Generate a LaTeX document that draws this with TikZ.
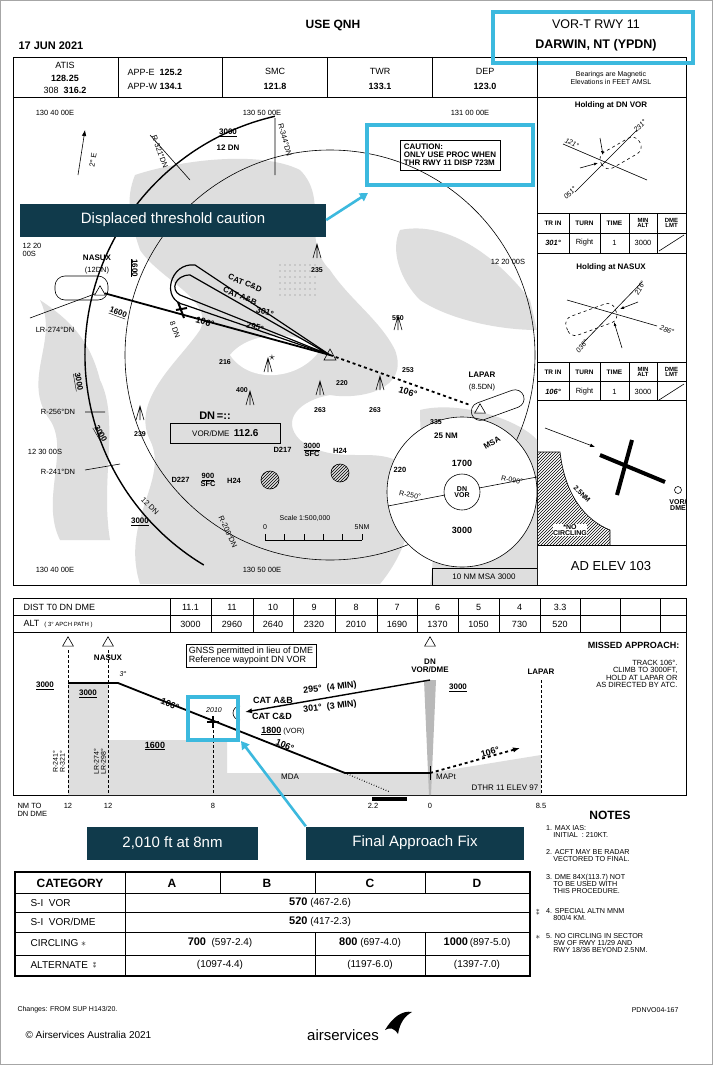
\documentclass[tikz,border=0pt]{standalone}
\usepackage{fontspec}
\setmainfont{Liberation Sans}
\usetikzlibrary{patterns,arrows.meta,decorations.markings}
\definecolor{cyanb}{RGB}{60,185,222}
\definecolor{darkbox}{RGB}{16,58,75}
\definecolor{land}{RGB}{222,222,222}
\newcommand\fsz[1]{\fontsize{#1}{#1}\selectfont}
\tikzset{
 ln/.style={line width=0.6pt},
 trk/.style={line width=1.8pt},
 callout/.style={fill=darkbox,text=white,font=\fsz{15},minimum height=33pt,inner sep=0pt},
 carrow/.style={cyanb,line width=2.6pt,-{Triangle[length=8pt,width=9pt]}},
 hl/.style={cyanb,line width=3.5pt},
 sm/.style={font=\fsz{7.5}},
 bsm/.style={font=\bfseries\fsz{8}},
 tri/.style={regular polygon,regular polygon sides=3,draw,inner sep=2.2pt,ln},
 note/.style={font=\fsz{7.2},anchor=north west,align=left,inner sep=0pt},
}
\usetikzlibrary{shapes.geometric}
\begin{document}
\begin{tikzpicture}[x=1pt,y=-1pt,font=\fsz{8}]
\useasboundingbox (0,0) rectangle (713,1065);
\fill[white] (0,0) rectangle (713,1065);
\draw[gray!70,line width=1pt] (0.5,0.5) rectangle (712.5,1064.5);
% header
\node[font=\bfseries\fsz{12}] (qnh) at (333,25) {USE QNH};
\node[font=\bfseries\fsz{11},anchor=west] (date) at (15,46) {17 JUN 2021};
\node[font=\fsz{12.5}] (vort) at (596,24) {VOR-T RWY 11};
\node[font=\bfseries\fsz{12.5}] (darw) at (596,45) {DARWIN, NT (YPDN)};
% main frame
\draw[line width=0.8pt] (13,57) rectangle (686,585);
\draw[hl] (493,12) rectangle (693,63);
\draw[ln] (13,97) -- (686,97);
\foreach \x in {118,222,327,432,537} \draw[ln] (\x,57) -- (\x,97);
\draw[ln] (537,97) -- (537,585);
\node[font=\fsz{9}] (atis) at (65,65) {ATIS};
\node[font=\bfseries\fsz{9}] (atisf) at (65,78) {128.25};
\node[font=\fsz{9}] (atisg) at (65,90) {308\ \ \textbf{316.2}};
\node[anchor=west,font=\fsz{9}] (appe) at (124,72) {APP-E\ \ \textbf{125.2}};
\node[anchor=west,font=\fsz{9}] (appw) at (124,86) {APP-W\ \textbf{134.1}};
\node[font=\fsz{9}] (smc) at (275,71) {SMC}; \node[font=\bfseries\fsz{9}] (smcf) at (275,86) {121.8};
\node[font=\fsz{9}] (twr) at (380,71) {TWR}; \node[font=\bfseries\fsz{9}] (twrf) at (380,86) {133.1};
\node[font=\fsz{9}] (dep) at (485,71) {DEP}; \node[font=\bfseries\fsz{9}] (depf) at (485,86) {123.0};
\node[font=\fsz{7},align=center] (bear) at (611,78) {Bearings are Magnetic\\[1pt]Elevations in FEET AMSL};
% right panels
\node[bsm] (hdn) at (611,105) {Holding at DN VOR};
\draw[ln] (537,213) -- (686,213) (537,233) -- (686,233) (537,253) -- (686,253);
\foreach \x in {569,600,629,657} \draw[ln] (\x,213) -- (\x,253);
\foreach \y/\a/\b in {223/301°/t1,372/106°/t2}{
 \node[font=\bfseries\fsz{6.5}] at (553,\y) {TR IN};
 \node[font=\bfseries\fsz{6.5}] at (584.5,\y) {TURN};
 \node[font=\bfseries\fsz{6.5}] at (614.5,\y) {TIME};
 \node[font=\bfseries\fsz{6},align=center] at (643,\y) {MIN\\[-1pt]ALT};
 \node[font=\bfseries\fsz{6},align=center] at (671.5,\y) {DME\\[-1pt]LMT};
 \node[font=\bfseries\itshape\fsz{7.5}] at (553,\y+20) {\a};
 \node[font=\fsz{7.5}] at (584.5,\y+20) {Right};
 \node[font=\fsz{7.5}] at (614.5,\y+20) {1};
 \node[font=\fsz{7.5}] at (643,\y+20) {3000};
 \draw[ln] (659,\y+28) -- (684,\y+12);
}
\node[bsm] (hnas) at (611,267) {Holding at NASUX};
\draw[ln] (537,362) -- (686,362) (537,381) -- (686,381) (537,400) -- (686,400);
\foreach \x in {569,600,629,657} \draw[ln] (\x,362) -- (\x,400);
% DN VOR holding
\coordinate (hc1) at (605,162);
\draw[ln] (hc1) ++(-30,30) -- ++(62,-62);
\draw[ln] (hc1) ++(-42,-18) -- ++(84,36);
\draw[ln,dashed,rounded corners=8pt,rotate around={30:(hc1)}] ([xshift=-4pt,yshift=-9pt]hc1) rectangle ([xshift=40pt,yshift=9pt]hc1);
\node[font=\itshape\fsz{7},rotate=-25] (l121) at (572,143) {121°};
\node[font=\itshape\fsz{7},rotate=45] (l231) at (640,126) {231°};
\node[font=\itshape\fsz{7},rotate=45] (l051) at (570,193) {051°};
\draw[ln,-{Latex[length=4pt]}] (600,138) -- (603,155);
\draw[ln,-{Latex[length=4pt]}] (580,168) -- (598,163);
% NASUX holding
\coordinate (hc2) at (612,312);
\draw[ln] (hc2) ++(-30,32) -- ++(60,-62);
\draw[ln] (hc2) ++(-45,-12) -- ++(90,26);
\draw[ln,dashed,rounded corners=8pt,rotate around={20:(hc2)}] ([xshift=-48pt,yshift=-10pt]hc2) rectangle ([xshift=4pt,yshift=10pt]hc2);
\node[font=\itshape\fsz{7},rotate=60] (l216) at (640,288) {216°};
\node[font=\itshape\fsz{7},rotate=-20] (l286) at (667,330) {286°};
\node[font=\itshape\fsz{7},rotate=50] (l036) at (582,346) {036°};
\draw[ln,-{Latex[length=4pt]}] (638,302) -- (620,309);
\draw[ln,-{Latex[length=4pt]}] (622,348) -- (614,322);
% runway sketch
\fill[pattern=north east lines] (537,452) -- (560,452) .. controls (565,495) and (585,520) .. (610,530) -- (610,545) -- (537,545) -- cycle;
\draw[ln] (537,452) -- (560,452) .. controls (565,495) and (585,520) .. (610,530) -- (610,545);
\draw[ln,-{Latex[length=5pt]}] (545,428) -- (595,447);
\draw[line width=4pt] (600,455) -- (665,482);
\draw[line width=4pt] (632,440) -- (617,495);
\draw[ln] (678,490) circle (3.5);
\node[font=\bfseries\fsz{7},align=center] (vdme) at (678,505) {VOR/\\[-1pt]DME};
\node[font=\bfseries\fsz{7},rotate=-45] (nm25) at (582,494) {2.5NM};
\node[font=\bfseries\fsz{7},align=center,fill=white,inner sep=0.5pt] (noc) at (570,530) {*NO\\[-1pt]CIRCLING};
\draw[ln] (537,545) -- (686,545);
\node[font=\fsz{13}] (adel) at (611,566) {AD ELEV 103};
% plan view land
\fill[land] (135,175) .. controls (180,160) and (260,150) .. (300,170) .. controls (330,200) and (300,240) .. (330,270)
 .. controls (350,300) and (380,320) .. (395,350) .. controls (410,390) and (360,400) .. (330,395)
 .. controls (300,400) and (280,420) .. (300,440) .. controls (340,470) and (380,440) .. (410,470)
 .. controls (420,520) and (400,560) .. (380,584) -- (140,584) .. controls (120,520) and (170,480) .. (150,440)
 .. controls (130,400) and (180,360) .. (200,330) .. controls (215,300) and (160,280) .. (140,250) .. controls (130,220) and (125,200) .. (135,175);
\fill[land] (40,300) .. controls (60,340) and (20,380) .. (50,420) .. controls (70,450) and (40,500) .. (60,540) -- (110,540) .. controls (100,480) and (120,420) .. (100,380) .. controls (90,340) and (70,320) .. (40,300);
\fill[land] (400,230) .. controls (450,220) and (500,260) .. (530,300) -- (537,330) .. controls (500,330) and (450,320) .. (420,300) .. controls (400,280) and (390,250) .. (400,230);
\fill[land] (420,410) .. controls (460,400) and (520,420) .. (537,440) -- (537,585) -- (430,585) .. controls (440,530) and (420,470) .. (420,410);
\fill[white] (230,355) .. controls (250,330) and (300,330) .. (320,350) .. controls (300,380) and (250,385) .. (230,355);
\foreach \i in {0,...,7}{\foreach \j in {0,...,5}{\fill[gray] (280+\i*5,265+\j*6) circle (0.7);}}
% circles
\coordinate (dnv) at (330,355);
\draw[ln] (dnv) circle (205);
\draw[line width=1.4pt] (dnv) ++(257:245) arc[start angle=257,end angle=121,radius=245];
\draw[ln] (324,360) -- (330,349) -- (336,360) -- cycle;
% MSA
\coordinate (msa) at (462,492);
\fill[white] (msa) circle (75); \draw[ln] (msa) circle (75);
\draw[ln] (msa) circle (18);
\draw[ln] (388,506) -- (445,495) (479,488) -- (537,477);
\node[font=\bfseries\fsz{7},align=center] (dnmsa) at (msa) {DN\\[-1pt]VOR};
\node[font=\bfseries\fsz{9}] (m1700) at (462,463) {1700};
\node[font=\bfseries\fsz{9}] (m3000) at (462,530) {3000};
\node[font=\bfseries\fsz{8}] (m25) at (446,436) {25 NM};
\node[font=\bfseries\fsz{8},rotate=30] (mmsa) at (492,443) {MSA};
\node[font=\fsz{7},rotate=-10] (r250) at (410,495) {R-250°};
\node[font=\fsz{7},rotate=-10] (r090) at (512,480) {R-090°};
\draw[ln] (432,568) -- (432,585) -- (537,585) (432,568) -- (537,568);
\node (msa10) at (484,577) {10 NM MSA 3000};
% coord labels
\node[sm] at (55,113) {130 40 00E};
\node[sm] at (262,113) {130 50 00E};
\node[sm] at (470,113) {131 00 00E};
\node[sm,align=left] at (32,250) {12 20\\00S};
\node[sm] at (508,262) {12 20 00S};
\node[sm] at (45,452) {12 30 00S};
\node[sm] at (55,570) {130 40 00E};
\node[sm] at (262,570) {130 50 00E};
% north arrow
\draw[ln,-{Latex[length=6pt]}] (78,175) -- (85,130);
\node[sm,rotate=80] (twoe) at (93,160) {2° E};
% arc labels
\node[bsm] (a3000) at (228,133) {\underline{3000}};
\node[bsm] (a12) at (228,148) {12 DN};
\node[sm,rotate=-70] at (160,152) {R-321°DN};
\node[sm,rotate=-75] at (285,140) {R-344°DN};
\draw[ln] (150,135) -- (190,180) (275,118) -- (275,175);
\node[bsm,rotate=-90] at (134,268) {\underline{1600}};
\node[bsm,rotate=-80] at (78,382) {\underline{3000}};
\node[bsm,rotate=-60] at (100,434) {\underline{3000}};
\node[sm] at (58,412) {R-256°DN};
\node[sm] at (58,472) {R-241°DN};
\draw[ln] (85,412) -- (105,412) (85,470) -- (120,464);
\node[sm,rotate=-45] at (150,506) {12 DN};
\node[bsm] at (140,522) {\underline{3000}};
\node[sm,rotate=-65] at (228,532) {R-209°DN};
% NASUX
\node[tri] (nasux) at (100,292) {};
\node[bsm] (nasl) at (97,258) {NASUX};
\node[sm] (nasd) at (97,271) {(12DN)};
\draw[ln,rounded corners=10pt] (55,276) rectangle (108,300);
\node[bsm,rotate=-20] at (118,313) {\underline{1600}};
\draw[ln] (nasux) -- (30,318);
\node[sm] at (55,330) {LR-274°DN};
% tracks
\draw[trk] (nasux) -- (dnv);
\draw[trk,dashed] (dnv) -- (470,405);
\draw[line width=1.2pt] (dnv) -- (180,295) .. controls (170,290) and (175,275) .. (190,275) -- (dnv);
\draw[line width=1.2pt] (dnv) -- (185,305) .. controls (160,300) and (170,262) .. (195,265) -- (dnv);
\node[font=\bfseries\fsz{9},rotate=-17] at (205,322) {106°};
\node[font=\bfseries\fsz{9},rotate=-17] at (408,392) {106°};
\node[font=\bfseries\fsz{8},rotate=-22] at (245,283) {CAT C\&D};
\node[font=\bfseries\fsz{8},rotate=-22] at (240,296) {CAT A\&B};
\node[font=\bfseries\fsz{8.5},rotate=-17] at (265,312) {301°};
\node[font=\bfseries\fsz{8.5},rotate=-17] at (255,327) {295°};
\node[sm,rotate=-70] at (175,330) {8 DN};
\draw[line width=2pt] (178,302) -- (184,318) (176,310) -- (187,308);
% LAPAR
\node[bsm] (lapar) at (482,375) {LAPAR};
\node[sm] (lapd) at (482,388) {(8.5DN)};
\draw[ln,rounded corners=9pt,rotate around={20:(495,405)}] (470,397) rectangle (525,415);
\node[tri] (lapt) at (480,410) {};
% obstacles
\foreach \x/\y/\t in {225/362/216,242/390/400,320/410/263,342/383/220,375/410/263,408/370/253,398/318/550,436/422/335,317/270/235,140/434/239}{
 \node[font=\bfseries\fsz{7}] at (\x,\y) {\t};}
\foreach \x/\y in {398/330, 380/390, 320/395, 250/405, 140/420, 317/258, 268/372}{
 \draw[ln] (\x,\y) -- (\x,\y-14) (\x-4,\y) -- (\x,\y-14) -- (\x+4,\y);}
\node[font=\fsz{12}] at (272,358) {$\star$};
% DN box
\node[font=\bfseries\fsz{11}] (dnl) at (215,416) {DN\,=::};
\node[draw,ln,minimum width=110pt,minimum height=20pt,anchor=west] (dnbox) at (170,433) {VOR/DME\ \ \textbf{\fsz{10}112.6}};
% restricted areas
\node[font=\bfseries\fsz{7.5},anchor=east] at (295,450) {D217};
\node[font=\bfseries\fsz{7.5},align=center] at (312,450) {\underline{3000}\\SFC};
\node[font=\bfseries\fsz{7.5}] at (340,451) {H24};
\node[font=\bfseries\fsz{7.5},anchor=east] at (193,480) {D227};
\node[font=\bfseries\fsz{7.5},align=center] at (208,480) {\underline{900}\\SFC};
\node[font=\bfseries\fsz{7.5}] at (234,481) {H24};
\fill[pattern=north east lines] (340,473) circle (9); \draw[ln] (340,473) circle (9);
\fill[pattern=north east lines] (270,480) circle (9); \draw[ln] (270,480) circle (9);
\node[font=\bfseries\fsz{7.5}] at (400,470) {220};
% scale
\node[font=\fsz{7}] at (305,518) {Scale 1:500,000};
\node[font=\fsz{7}] at (265,527) {0};
\node[font=\fsz{7}] at (362,527) {5NM};
\draw[ln] (265,540) -- (362,540);
\foreach \i in {0,...,5} \draw[ln] (265+\i*19.4,534) -- (265+\i*19.4,540);
% caution
\node[draw,ln,align=left,font=\bfseries\fsz{8},inner sep=4pt] (caut) at (450,155) {CAUTION:\\ONLY USE PROC WHEN\\THR RWY 11 DISP 723M};
\draw[hl] (367,125) rectangle (533,185);
\node[callout,minimum width=306pt] (c1) at (173,220) {Displaced threshold caution};
\draw[carrow] (c1.east) -- (368,193);
% ================= profile
\draw[line width=0.8pt] (13,598) rectangle (686,795);
\draw[ln] (13,615) -- (686,615) (13,632) -- (686,632);
\foreach \x in {170,211,253,293,335,377,417,458,499,540,580,620,660} \draw[ln] (\x,598) -- (\x,632);
\node[anchor=west,font=\fsz{9}] (distl) at (20,607) {DIST T0 DN DME};
\node[anchor=west,font=\fsz{9}] (altl) at (20,624) {ALT\ \ {\fsz{6}( 3° APCH PATH )}};
\foreach \x/\d/\a in {190.5/11.1/3000,232/11/2960,273/10/2640,314/9/2320,356/8/2010,397/7/1690,437.5/6/1370,478.5/5/1050,519.5/4/730,560/3.3/520}{
 \node[font=\fsz{9}] at (\x,607) {\d}; \node[font=\fsz{9}] at (\x,624) {\a};}
\fill[land] (68,683) -- (108,683) -- (108,740) -- (227,740) -- (227,773) -- (430,773) -- (541,755) -- (541,795) -- (68,795) -- cycle;
\fill[gray!55] (424,680) -- (436,680) -- (431,795) -- (429,795) -- cycle;
\foreach \x/\t in {68/650,108/650,213/730,541/680} \draw[ln,densely dashed] (\x,\t) -- (\x,795);
\node[tri] (ptri1) at (68,643) {};
\node[tri] (ptri2) at (108,643) {};
\node[tri] (ptri3) at (430,643) {};
\node[bsm] (pnas) at (108,658) {NASUX};
\node[bsm,align=center] (pdn) at (430,666) {DN\\VOR/DME};
\node[bsm] (plap) at (541,672) {LAPAR};
\node[draw,ln,align=left,font=\fsz{9},inner sep=3pt] (gnss) at (251,656) {GNSS permitted in lieu of DME\\Reference waypoint DN VOR};
\node[font=\bfseries\fsz{9},anchor=east] (mapp) at (683,645) {MISSED APPROACH:};
\node[font=\fsz{7.5},anchor=east,align=right] (mapt) at (681,674) {TRACK 106°.\\CLIMB TO 3000FT,\\HOLD AT LAPAR OR\\AS DIRECTED BY ATC.};
% profile path
\coordinate (p0) at (68,683); \coordinate (p1) at (118,683); \coordinate (faf) at (213,722);
\coordinate (p3) at (345,773); \coordinate (mapc) at (430,773); \coordinate (p5) at (520,748);
\draw[trk] (p0) -- (p1) -- (p3) -- (mapc);
\draw[trk,dashed,-{Latex[length=7pt]}] (mapc) -- (p5);
\draw[line width=1.4pt,-{Latex[length=7pt]}] (430,680) -- (245,712);
\draw[line width=2.2pt] (faf) ++(-6,0) -- ++(12,0) (faf) ++(0,-6) -- ++(0,12);
\draw[ln] (mapc) ++(0,-7) -- ++(0,14);
\draw[ln] (240,706) arc[start angle=-90,end angle=-270,radius=7];
\draw[ln,dotted,line width=1.2pt] (p3) -- (390,792);
\fill (372,797) rectangle (407,801);
\node[font=\itshape\fsz{7}] at (123,674) {3°};
\node[bsm] at (45,686) {\underline{3000}};
\node[bsm] at (88,694) {\underline{3000}};
\node[font=\bfseries\fsz{9},rotate=-22] at (170,704) {106°};
\node[font=\bfseries\fsz{9},rotate=-22] at (285,745) {106°};
\node[font=\bfseries\fsz{9},rotate=15] at (490,752) {106°};
\node[font=\itshape\fsz{7}] (f2010) at (214,710) {2010};
\draw[hl] (188,697) rectangle (238,740);
\node[font=\bfseries\fsz{9}] at (273,700) {CAT A\&B};
\node[font=\bfseries\fsz{9}] at (272,716) {CAT C\&D};
\node[font=\bfseries\fsz{9},rotate=7] at (330,688) {295°\ \ (4 MIN)};
\node[font=\bfseries\fsz{9},rotate=7] at (330,707) {301°\ \ (3 MIN)};
\node[bsm] at (458,688) {\underline{3000}};
\node[font=\fsz{7.5}] at (283,731) {\textbf{\fsz{9}\underline{1800}} (VOR)};
\node[font=\bfseries\fsz{9}] at (155,746) {\underline{1600}};
\node[font=\fsz{8}] at (290,777) {MDA};
\node[font=\fsz{8}] at (446,777) {MAPt};
\node[font=\fsz{8}] at (505,788) {DTHR 11 ELEV 97};
\node[font=\fsz{7},rotate=90,align=center] at (59,762) {R-241°\\R-321°};
\node[font=\fsz{7},rotate=90,align=center] at (100,762) {LR-274°\\LR-298°};
\node[font=\fsz{7.5},align=left,anchor=north west] at (14,800) {NM TO\\DN DME};
\foreach \x/\t in {68/12,108/12,213/8,373/2.2,430/0,541/8.5} \node[font=\fsz{7.5}] at (\x,806) {\t};
% profile callouts
\node[callout,minimum width=171pt] (c2) at (172.5,843) {2,010 ft at 8nm};
\node[callout,minimum width=218pt] (c3) at (415,843) {Final Approach Fix};
\draw[carrow] (c3.north west) -- (241,741);
% notes
\node[font=\bfseries\fsz{12}] (notes) at (610,815) {NOTES};
\node[note] (n1) at (546,825) {1. MAX IAS:\\\quad INITIAL\ \ : 210KT.};
\node[note] (n2) at (546,849) {2. ACFT MAY BE RADAR\\\quad VECTORED TO FINAL.};
\node[note] (n3) at (546,874) {3. DME 84X(113.7) NOT\\\quad TO BE USED WITH\\\quad THIS PROCEDURE.};
\node[note] (n4) at (546,908) {4. SPECIAL ALTN MNM\\\quad 800/4 KM.};
\node[note] (n5) at (546,933) {5. NO CIRCLING IN SECTOR\\\quad SW OF RWY 11/29 AND\\\quad RWY 18/36 BEYOND 2.5NM.};
\node[font=\fsz{7},align=center,inner sep=0pt] at (538,912) {$\ast$\\[-4pt]$\ast$};
\node[font=\fsz{9},inner sep=0pt] at (538,937) {$\ast$};
% category table
\draw[line width=1.2pt] (15,872) rectangle (530,976);
\draw[ln] (15,893) -- (530,893) (15,912) -- (530,912) (15,932) -- (530,932) (15,955) -- (530,955);
\draw[ln] (125,872) -- (125,976) (220,872) -- (220,893) (315,872) -- (315,893) (315,932) -- (315,976) (425,872) -- (425,893) (425,932) -- (425,976);
\node[font=\bfseries\fsz{12}] (cat) at (70,883) {CATEGORY};
\node[font=\bfseries\fsz{12}] at (172,883) {A};
\node[font=\bfseries\fsz{12}] at (267,883) {B};
\node[font=\bfseries\fsz{12}] at (370,883) {C};
\node[font=\bfseries\fsz{12}] at (477,883) {D};
\node[font=\fsz{10},anchor=west] at (27,903) {S-I\ \ VOR};
\node[font=\fsz{10},anchor=west] at (27,922) {S-I\ \ VOR/DME};
\node[font=\fsz{10},anchor=west] at (27,943) {CIRCLING $\ast$};
\node[font=\fsz{10},anchor=west] (alt) at (27,965) {ALTERNATE};
\node[font=\fsz{7},align=center,inner sep=0pt,anchor=west] at ([xshift=1pt]alt.east) {$\ast$\\[-4pt]$\ast$};
\node[font=\fsz{10}] at (320,903) {\textbf{\fsz{11}570} (467-2.6)};
\node[font=\fsz{10}] at (320,922) {\textbf{\fsz{11}520} (417-2.3)};
\node[font=\fsz{10}] at (220,943) {\textbf{\fsz{11}700}\ \ (597-2.4)};
\node[font=\fsz{10}] at (370,943) {\textbf{\fsz{11}800} (697-4.0)};
\node[font=\fsz{10}] at (477,943) {\textbf{\fsz{11}1000}\,(897-5.0)};
\node[font=\fsz{10}] at (220,965) {(1097-4.4)};
\node[font=\fsz{10}] at (370,965) {(1197-6.0)};
\node[font=\fsz{10}] at (477,965) {(1397-7.0)};
\node[font=\fsz{7},anchor=west] (chg) at (14,1010) {Changes: FROM SUP H143/20.};
\node[font=\fsz{7},anchor=east] (pdn) at (682,1010) {PDNVO04-167};
% footer
\node[font=\fsz{10},anchor=west] (copy) at (22,1035) {© Airservices Australia 2021};
\node[font=\fsz{15}] (logo) at (343,1035) {airservices};
\fill (385,1030) .. controls (392,1018) and (402,1010) .. (412,1012) .. controls (405,1016) and (400,1022) .. (398,1034) .. controls (394,1028) and (390,1027) .. (385,1030) -- cycle;
\end{tikzpicture}
\end{document}
